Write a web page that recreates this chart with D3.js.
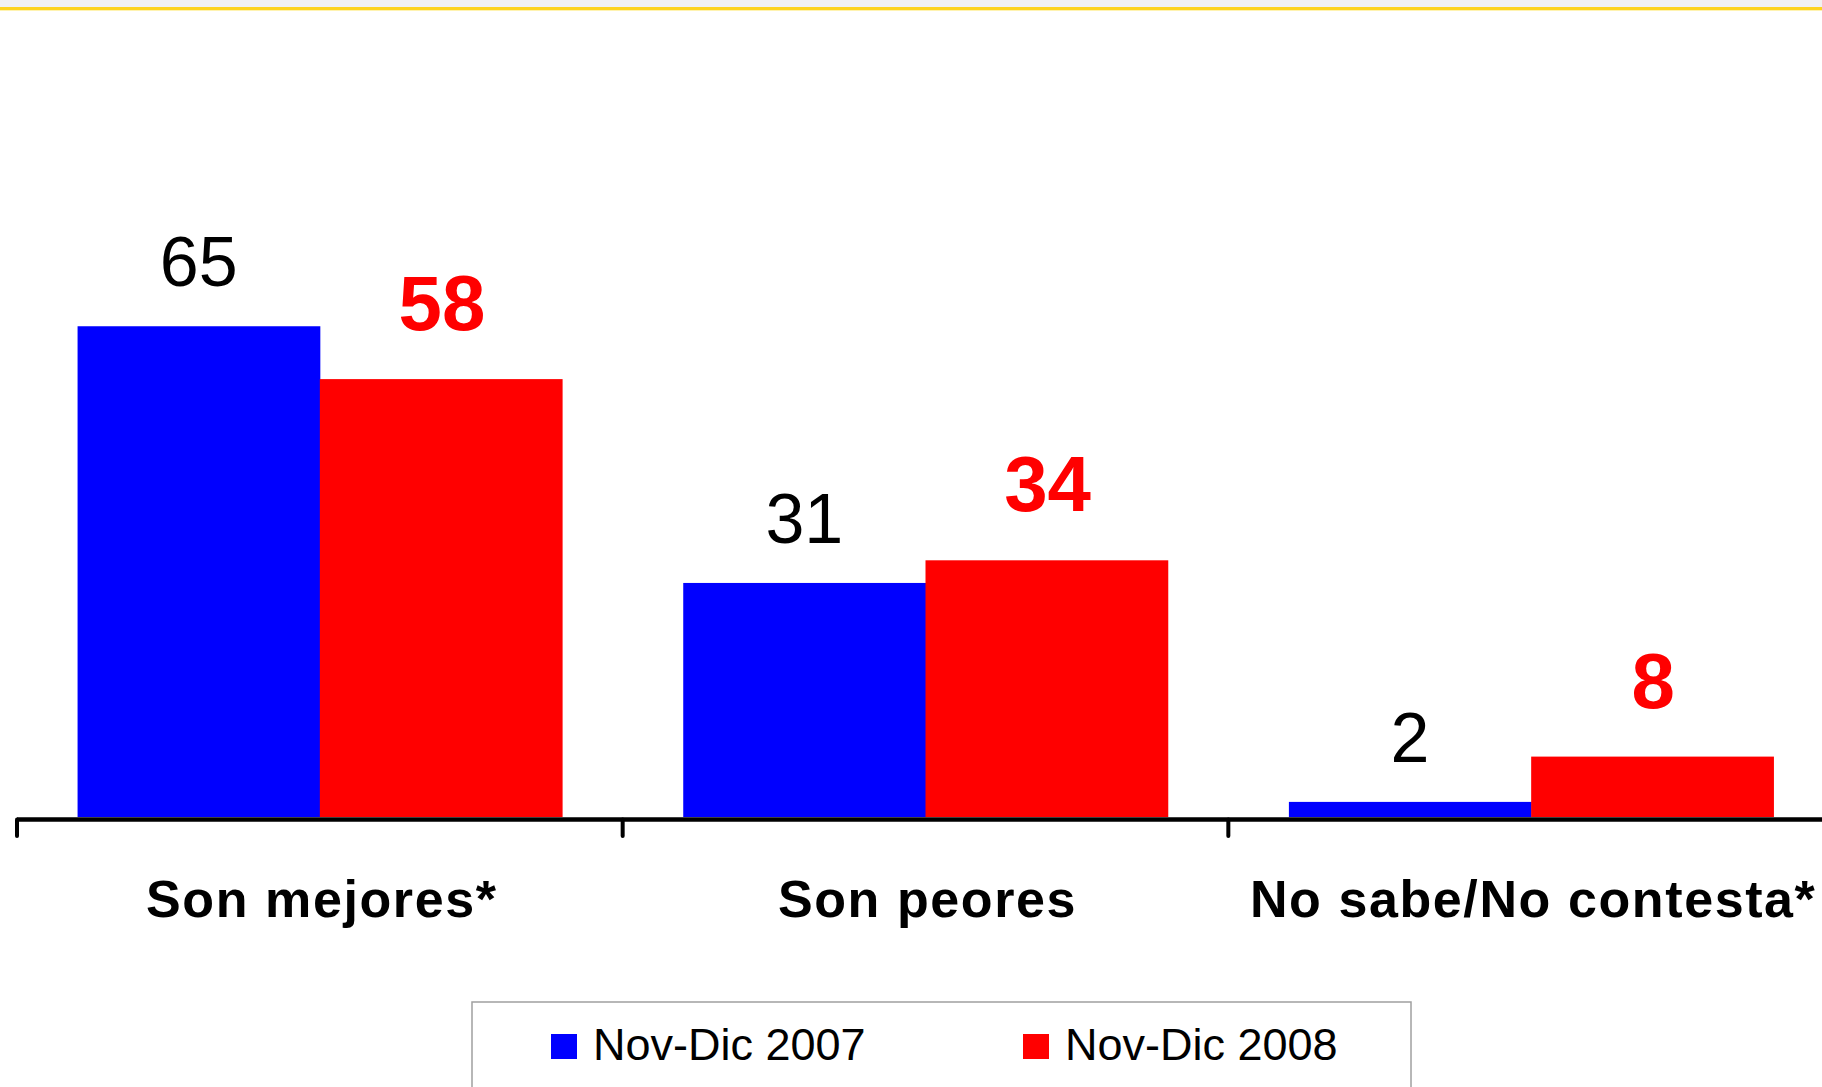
<!DOCTYPE html>
<html>
<head>
<meta charset="utf-8">
<script src="https://cdn.jsdelivr.net/npm/d3@7"></script>
<style>
  html, body { margin: 0; padding: 0; background: #ffffff; overflow: hidden; }
  svg { display: block; font-family: "Liberation Sans", Arial, sans-serif; }
</style>
</head>
<body>
<svg id="chart" width="1822" height="1087"></svg>
<script>
// ---- data ----
const categories = ["Son mejores*", "Son peores", "No sabe/No contesta*"];
const seriesNames = ["Nov-Dic 2007", "Nov-Dic 2008"];
const values2007 = [65, 31, 2];
const values2008 = [58, 34, 8];
const seriesColors = ["#0000ff", "#ff0000"];

const svg = d3.select("#chart");
const W = 1822, H = 1087;

// top band + yellow rule
svg.append("rect").attr("x", 0).attr("y", 0).attr("width", W).attr("height", 7).attr("fill", "#f1f1f1");
svg.append("rect").attr("x", 0).attr("y", 7).attr("width", W).attr("height", 3).attr("fill", "#fdd31d");
svg.append("rect").attr("x", 0).attr("y", 10).attr("width", W).attr("height", 1).attr("fill", "#fff3b0");

// scales
const x0 = d3.scaleBand().domain(categories).range([17, 1834]).padding(0);
const bw = x0.bandwidth();
const x1 = d3.scaleBand().domain(seriesNames).range([bw * 0.1, bw * 0.9]).padding(0);
const y = d3.scaleLinear().domain([0, 100]).range([817, 62]);

const rows = categories.map((c, i) => ({ cat: c, vals: [values2007[i], values2008[i]] }));

const g = svg.append("g");

// bars
const groups = g.selectAll("g.cat").data(rows).enter().append("g")
  .attr("transform", d => `translate(${x0(d.cat)},0)`);

groups.selectAll("rect").data(d => d.vals.map((v, k) => ({ v, k }))).enter().append("rect")
  .attr("x", d => x1(seriesNames[d.k]))
  .attr("width", x1.bandwidth() + 0.5)
  .attr("y", d => y(d.v))
  .attr("height", d => y(0) - y(d.v))
  .attr("fill", d => seriesColors[d.k]);

// value labels
groups.selectAll("text.val").data(d => d.vals.map((v, k) => ({ v, k }))).enter().append("text")
  .attr("class", "val")
  .attr("x", d => x1(seriesNames[d.k]) + x1.bandwidth() / 2 + (d.k === 0 ? 0 : 1))
  .attr("y", d => y(d.v) - (d.k === 0 ? 40 : 49))
  .attr("text-anchor", "middle")
  .attr("font-size", d => d.k === 0 ? 70 : 78)
  .attr("font-weight", d => d.k === 0 ? "normal" : "bold")
  .attr("fill", d => d.k === 0 ? "#000000" : "#ff0000")
  .text(d => d.v);

// axis line and ticks (at category boundaries)
const axisY = 819.5;
const tickXs = categories.map(c => x0(c));
g.append("line")
  .attr("x1", x0.range()[0]).attr("x2", W + 10)
  .attr("y1", axisY).attr("y2", axisY)
  .attr("stroke", "#000").attr("stroke-width", 4.5);
g.selectAll("line.tick").data(tickXs).enter().append("line")
  .attr("class", "tick")
  .attr("x1", d => d).attr("x2", d => d)
  .attr("y1", axisY).attr("y2", 836)
  .attr("stroke", "#000").attr("stroke-width", 4)
  .attr("stroke-linecap", "round");

// category labels
g.selectAll("text.cat").data(categories).enter().append("text")
  .attr("class", "cat")
  .attr("x", d => x0(d) + bw / 2 + 2)
  .attr("y", 917)
  .attr("text-anchor", "middle")
  .attr("font-size", 52)
  .attr("font-weight", "bold")
  .attr("letter-spacing", 1.6)
  .attr("fill", "#000")
  .text(d => d);

// legend
const leg = svg.append("g");
leg.append("rect")
  .attr("x", 472).attr("y", 1002).attr("width", 939).attr("height", 120)
  .attr("fill", "#fff").attr("stroke", "#a0a0a0").attr("stroke-width", 1.5);
const legendX = [551, 1023];
const legItems = leg.selectAll("g.li").data(seriesNames).enter().append("g")
  .attr("transform", (d, i) => `translate(${legendX[i]},0)`);
legItems.append("rect")
  .attr("x", 0).attr("y", 1034).attr("width", 26).attr("height", 25)
  .attr("fill", (d, i) => seriesColors[i]);
legItems.append("text")
  .attr("x", 42).attr("y", 1060)
  .attr("font-size", 45)
  .attr("fill", "#000")
  .text(d => d);
</script>
</body>
</html>
